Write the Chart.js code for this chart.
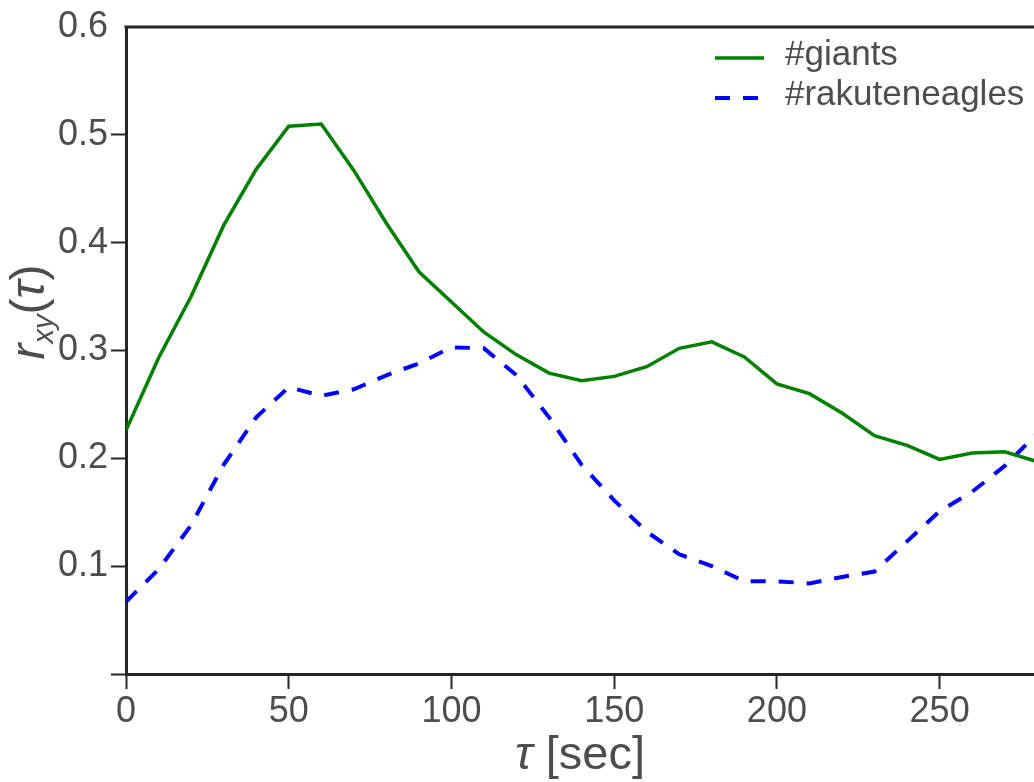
<!DOCTYPE html>
<html>
<head>
<meta charset="utf-8">
<title>r_xy(tau)</title>
<script src="https://cdn.jsdelivr.net/npm/chart.js@4.4.1/dist/chart.umd.min.js"></script>
<style>
	html, body { margin: 0; padding: 0; background: #fff; overflow: hidden; }
	#wrap { width: 1034px; height: 782px; }
</style>
</head>
<body>
<div id="wrap"><canvas id="mycanvas" width="1034" height="782"></canvas></div>
<script>
// lag in seconds, cross-correlation per hashtag
var lagSec = [0, 10, 20, 30, 40, 50, 60, 70, 80, 90, 100, 110, 120, 130, 140,
	150, 160, 170, 180, 190, 200, 210, 220, 230, 240, 250, 260, 270, 280];
var giants = [0.226, 0.293, 0.350, 0.416, 0.468, 0.508, 0.510, 0.467, 0.418, 0.373,
	0.345, 0.317, 0.296, 0.279, 0.272, 0.276, 0.285, 0.302, 0.308, 0.294,
	0.269, 0.260, 0.242, 0.221, 0.212, 0.199, 0.205, 0.206, 0.197];
var rakuten = [0.067, 0.097, 0.138, 0.194, 0.238, 0.266, 0.258, 0.264, 0.277, 0.288,
	0.303, 0.302, 0.277, 0.238, 0.194, 0.161, 0.132, 0.111, 0.100, 0.086,
	0.086, 0.084, 0.090, 0.095, 0.123, 0.151, 0.169, 0.193, 0.223];
var seriesNames = ["#giants", "#rakuteneagles"];
var xTicks = [0, 50, 100, 150, 200, 250];
var yTicks = [0, 0.1, 0.2, 0.3, 0.4, 0.5, 0.6];

var FONT = '"Liberation Sans", Arial, sans-serif';
var textColor = "#4d4d4d";
var axisColor = "#262626";

function toPoints(ys) {
	return lagSec.map(function(s, i) { return { x: s, y: ys[i] }; });
}

// top spine of the axes box
var topSpine = {
	id: "topSpine",
	afterDraw: function(chart) {
		var a = chart.chartArea, ctx = chart.ctx;
		ctx.save();
		ctx.strokeStyle = axisColor;
		ctx.lineWidth = 3;
		ctx.beginPath();
		ctx.moveTo(a.left - 1.5, a.top);
		ctx.lineTo(a.right, a.top);
		ctx.stroke();
		ctx.restore();
	}
};

// legend in the upper right corner, line sample + label
var cornerLegend = {
	id: "cornerLegend",
	afterDraw: function(chart) {
		var a = chart.chartArea, ctx = chart.ctx;
		ctx.save();
		ctx.font = "35px " + FONT;
		ctx.fillStyle = textColor;
		ctx.textBaseline = "alphabetic";
		chart.data.datasets.forEach(function(ds, i) {
			var base = a.top + 38 + i * 40;
			ctx.beginPath();
			ctx.setLineDash(ds.borderDash || []);
			ctx.lineWidth = ds.borderWidth;
			ctx.strokeStyle = ds.borderColor;
			ctx.moveTo(a.right - 319, base - 7);
			ctx.lineTo(a.right - 270, base - 7);
			ctx.stroke();
			ctx.setLineDash([]);
			ctx.fillText(ds.label, a.right - 249, base);
		});
		ctx.restore();
	}
};

// axis titles with italic tau and the xy subscript
function drawRuns(ctx, runs, x0, y0) {
	var x = x0;
	runs.forEach(function(r) {
		ctx.font = r.f;
		ctx.fillText(r.t, x, y0 + (r.dy || 0));
		x += ctx.measureText(r.t).width;
	});
}
function runsWidth(ctx, runs) {
	var w = 0;
	runs.forEach(function(r) { ctx.font = r.f; w += ctx.measureText(r.t).width; });
	return w;
}
var axisTitles = {
	id: "axisTitles",
	afterDraw: function(chart) {
		var a = chart.chartArea, ctx = chart.ctx;
		ctx.save();
		ctx.fillStyle = textColor;
		ctx.textBaseline = "alphabetic";
		ctx.textAlign = "left";

		var xRuns = [
			{ t: "\u03c4", f: "italic 47px " + FONT },
			{ t: " [sec]", f: "47px " + FONT }
		];
		var cx = (a.left + a.right) / 2;
		drawRuns(ctx, xRuns, cx - runsWidth(ctx, xRuns) / 2, 769);

		var yRuns = [
			{ t: "r", f: "italic 48px " + FONT },
			{ t: "xy", f: "italic 29px " + FONT, dy: 9 },
			{ t: "(", f: "48px " + FONT },
			{ t: "\u03c4", f: "italic 48px " + FONT },
			{ t: ")", f: "48px " + FONT }
		];
		ctx.translate(44, 312);
		ctx.rotate(-Math.PI / 2);
		drawRuns(ctx, yRuns, -runsWidth(ctx, yRuns) / 2, 0);
		ctx.restore();
	}
};

var chartdata = {
	datasets: [
		{
			label: seriesNames[0],
			data: toPoints(giants),
			borderColor: "#008000",
			borderWidth: 3.5,
			pointRadius: 0,
			tension: 0,
			fill: false
		},
		{
			label: seriesNames[1],
			data: toPoints(rakuten),
			borderColor: "#0000ff",
			borderWidth: 4,
			borderDash: [15, 13],
			pointRadius: 0,
			tension: 0,
			fill: false
		}
	]
};

var ctx = document.getElementById("mycanvas");
var lineGraph = new Chart(ctx, {
	type: "line",
	data: chartdata,
	plugins: [topSpine, cornerLegend, axisTitles],
	options: {
		responsive: false,
		animation: false,
		devicePixelRatio: 1,
		layout: { padding: { top: 27, right: 0, left: 0, bottom: 0 } },
		plugins: {
			legend: { display: false },
			tooltip: { enabled: false }
		},
		scales: {
			x: {
				type: "linear",
				min: 0,
				max: 279,
				afterBuildTicks: function(scale) {
					scale.ticks = xTicks.map(function(v) { return { value: v }; });
				},
				afterFit: function(scale) { scale.height = 108; },
				ticks: {
					font: { family: FONT, size: 36 },
					color: textColor,
					padding: 1,
					maxRotation: 0,
					autoSkip: false
				},
				grid: {
					drawOnChartArea: false,
					drawTicks: true,
					tickLength: 15,
					tickWidth: 2,
					tickColor: axisColor
				},
				border: { display: true, color: axisColor, width: 3 }
			},
			y: {
				type: "linear",
				min: 0,
				max: 0.6,
				afterBuildTicks: function(scale) {
					scale.ticks = yTicks.map(function(v) { return { value: v }; });
				},
				afterFit: function(scale) { scale.width = 126; },
				ticks: {
					font: { family: FONT, size: 36 },
					color: textColor,
					padding: 3,
					autoSkip: false,
					callback: function(v) { return v === 0 ? "" : v.toFixed(1); }
				},
				grid: {
					drawOnChartArea: false,
					drawTicks: true,
					tickLength: 15,
					tickWidth: 2,
					tickColor: function(c) {
						return (c.tick && c.tick.value === 0.6) ? "rgba(0,0,0,0)" : axisColor;
					}
				},
				border: { display: true, color: axisColor, width: 3 }
			}
		}
	}
});
</script>
</body>
</html>
